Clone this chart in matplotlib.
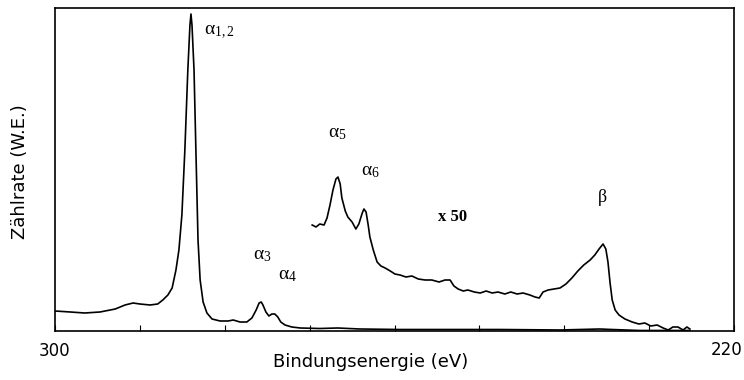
import numpy as np
import matplotlib.pyplot as plt

plt.rcParams['mathtext.fontset'] = 'custom'
plt.rcParams['mathtext.rm'] = 'Liberation Serif'
plt.rcParams['mathtext.it'] = 'Liberation Serif'

# Hauptspektrum (Energie in eV, Intensitaet in w.E.)
energie = [300.0, 298.2, 296.5, 294.7, 292.9, 291.75, 290.8, 290.0, 288.8, 287.9,
           287.3, 286.7, 286.2, 285.75, 285.4, 285.05, 284.7, 284.35, 284.1, 283.98,
           283.86, 283.62, 283.4, 283.15, 282.9, 282.55, 282.1, 281.5, 280.55, 279.6,
           279.0, 278.2, 277.4, 276.8, 276.3, 275.95, 275.7, 275.5, 275.15, 274.8,
           274.45, 274.1, 273.75, 273.4, 272.9, 272.1, 271.1, 268.8, 266.7, 264.1,
           259.4, 247.6, 240.5, 235.8, 234.4, 231.1, 225.2]
zaehlrate = [20, 19, 18, 19, 22, 26, 28, 27, 26, 27,
             31, 36, 43, 61, 81, 116, 181, 261, 306, 317,
             306, 261, 181, 91, 51, 29, 18, 12, 10, 10,
             11, 9, 9, 13, 21, 28, 29, 26, 19, 15,
             17, 17, 14, 9, 6, 4, 3, 2.5, 3, 2,
             1.5, 1.5, 1, 2, 1.5, 0.5, 0.5]

# Ausschnitt x 50
energie_50 = [269.7, 269.25, 268.8, 268.3, 267.95, 267.6, 267.25, 266.9, 266.66, 266.4,
              266.2, 265.8, 265.5, 265.0, 264.55, 264.2, 263.8, 263.6, 263.35, 263.1,
              262.9, 262.5, 262.05, 261.6, 261.1, 260.5, 259.95, 259.35, 258.65, 257.95,
              257.2, 256.4, 255.6, 254.75, 254.05, 253.45, 253.0, 252.5, 251.9, 251.35,
              250.6, 249.9, 249.2, 248.5, 247.8, 247.0, 246.3, 245.55, 244.85, 244.05,
              243.45, 242.95, 242.5, 241.9, 241.2, 240.5, 239.8, 239.1, 238.4, 237.7,
              236.95, 236.4, 235.9, 235.43, 235.1, 234.85, 234.6, 234.35, 234.0, 233.55,
              232.85, 232.0, 231.2, 230.5, 229.8, 229.05, 228.35, 227.75, 227.2, 226.6,
              226.0, 225.55, 225.2]
zaehlrate_50 = [106, 104, 107, 106, 113, 126, 141, 152, 154, 147,
                133, 120, 114, 109, 102, 107, 118, 122, 119, 106,
                94, 81, 69, 65, 63, 60, 57, 56, 54, 55,
                52, 51, 51, 49, 51, 51, 45, 42, 40, 41,
                39, 38, 40, 38, 39, 37, 39, 37, 38, 36,
                34, 33, 39, 41, 42, 43, 47, 53, 60, 66,
                71, 76, 82, 87, 82, 69, 48, 31, 21, 16,
                12, 9, 7, 8, 5, 6, 3, 1, 4, 4,
                1, 4, 2]

fig = plt.figure(figsize=(7.44, 3.8), dpi=100)
ax = fig.add_axes([55/744, 49/380, 679/744, 323/380])

ax.plot(energie, zaehlrate, color='black', lw=1.2)
ax.plot(energie_50, zaehlrate_50, color='black', lw=1.2)

ax.set_xlim(300, 220)
ax.set_ylim(0, 323)
ax.set_yticks([])
ax.set_xticks([300, 290, 280, 270, 260, 250, 240, 230, 220])
ax.set_xticklabels(['300', '', '', '', '', '', '', '', ''], fontsize=12)
ax.tick_params(axis='x', direction='in', length=4, pad=8)
for s in ax.spines.values():
    s.set_linewidth(1.2)
# 220 ist im Original am Rand angeschnitten -> knapp nach links
fig.text(743/744, 1 - 350/380, '220', fontsize=12, ha='right', va='center')

# Beschriftungen der Linien
lab = dict(fontsize=14, ha='left', va='center')
ax.text(282.45, 300, r'$\mathrm{α}_{\mathrm{1,2}}$', **lab)
ax.text(276.67, 76, r'$\mathrm{α}_{\mathrm{3}}$', **lab)
ax.text(273.73, 56, r'$\mathrm{α}_{\mathrm{4}}$', **lab)
ax.text(267.83, 199, r'$\mathrm{α}_{\mathrm{5}}$', **lab)
ax.text(263.95, 161, r'$\mathrm{α}_{\mathrm{6}}$', **lab)
ax.text(236.0, 133, 'β', fontsize=13, family='Liberation Serif', ha='left', va='center')
ax.text(254.87, 114, 'x 50', fontsize=12, family='Liberation Serif', weight='bold',
        ha='left', va='center')

fig.text(20/744, 1 - 172/380, 'Zählrate (W.E.)', rotation=90, fontsize=13,
         ha='center', va='center')
fig.text(371/744, 1 - 362/380, 'Bindungsenergie (eV)', fontsize=13,
         ha='center', va='center')

fig.savefig('out.png', dpi=100)
